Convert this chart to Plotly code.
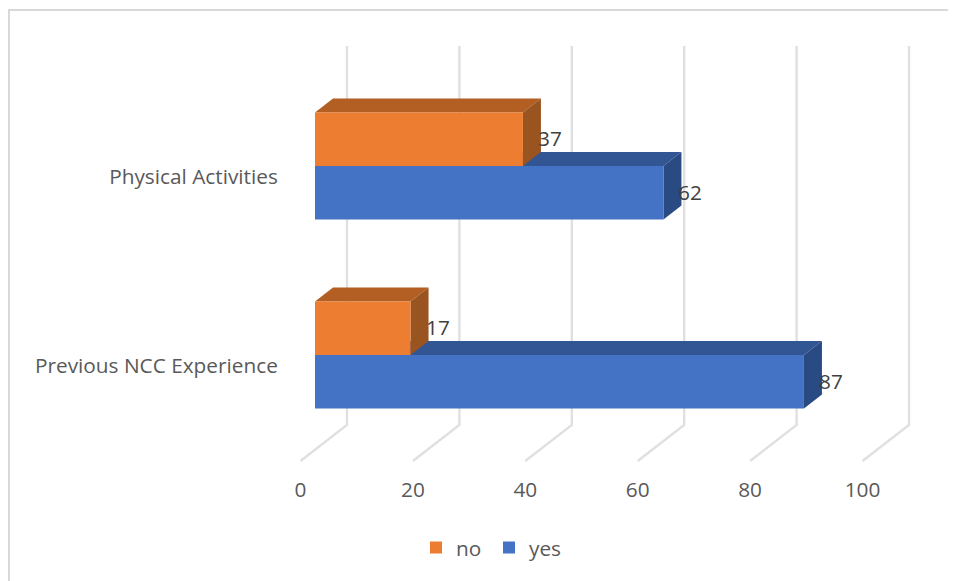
import plotly.graph_objects as go

categories = ["Previous NCC Experience", "Physical Activities"]
yes_values = [87, 62]
no_values = [17, 37]
tick_values = [0, 20, 40, 60, 80, 100]

FONT = "Open Sans"
FS = 20.8
PAGE = 8
FIG_W, FIG_H = 948, 573
PX_X, PX_Y = 5.62, 189.0
BAR_H = 53.5 / PX_Y
DX, DY = 18 / PX_X, 14 / PX_Y
TICK_SHIFT = -14.5 / PX_X
GRID_SHIFT = 32 / PX_X
L, R, T, B = 290, 930, 30, 472
x_range = [(L - 315) / PX_X, (R - 315) / PX_X]
y_range = [(355 - B) / PX_Y, (355 - T) / PX_Y]
pos = list(range(len(categories)))


def poly(pts, color):
    d = "M " + " L ".join(f"{x},{y}" for x, y in pts) + " Z"
    return dict(type="path", xref="x", yref="y", path=d, fillcolor=color,
                line=dict(width=0), layer="below")


shapes = [dict(type="rect", xref="paper", yref="paper",
               x0=(9 - L) / (R - L), x1=(975 - L) / (R - L),
               y0=(B - 640) / (B - T), y1=(B - 10) / (B - T),
               line=dict(color="#D9D9D9", width=2), layer="below")]

for t in tick_values:
    xb = t + GRID_SHIFT
    xf = t + TICK_SHIFT
    shapes.append(dict(type="path", xref="x", yref="y",
                       path=f"M {xb},{(355 - 46) / PX_Y} L {xb},{(355 - 425) / PX_Y} L {xf},{(355 - 461) / PX_Y}",
                       line=dict(color="#E0E0E0", width=2.4), layer="below"))


def faces(vals, y0s, top_c, side_c):
    out = []
    for v, y0 in zip(vals, y0s):
        y1 = y0 + BAR_H
        out.append(poly([(0, y1), (DX, y1 + DY), (v + DX, y1 + DY), (v, y1)], top_c))
        out.append(poly([(v, y0), (v + DX, y0 + DY), (v + DX, y1 + DY), (v, y1)], side_c))
    return out


shapes += faces(yes_values, [p - BAR_H for p in pos], "#325594", "#2A4A83")
shapes += faces(no_values, pos, "#B35F23", "#9A5420")

fig = go.Figure()
fig.add_bar(name="no", y=pos, x=no_values, orientation="h", width=BAR_H, offset=0,
            marker=dict(color="#ED7D31", line=dict(width=0)), hoverinfo="skip")
fig.add_bar(name="yes", y=pos, x=yes_values, orientation="h", width=BAR_H, offset=-BAR_H,
            marker=dict(color="#4472C4", line=dict(width=0)), hoverinfo="skip")

annotations = []
for vals, sign in ((no_values, 0.5), (yes_values, -0.5)):
    for v, p in zip(vals, pos):
        annotations.append(dict(x=v, y=p + sign * BAR_H, text=str(v), showarrow=False,
                                xanchor="left", xshift=13, yshift=1,
                                font=dict(family=FONT, size=FS, color="#404040")))

fig.update_layout(
    width=FIG_W, height=FIG_H,
    margin=dict(l=L - PAGE, r=FIG_W + PAGE - R, t=T - PAGE, b=FIG_H + PAGE - B, autoexpand=False),
    paper_bgcolor="white", plot_bgcolor="rgba(0,0,0,0)",
    barmode="overlay",
    font=dict(family=FONT, size=FS, color="#595959"),
    shapes=shapes, annotations=annotations,
    xaxis=dict(range=x_range, showgrid=False, zeroline=False, showline=False,
               tickmode="array", tickvals=[t + TICK_SHIFT for t in tick_values],
               ticktext=[str(t) for t in tick_values],
               ticks="", ticklabelstandoff=3),
    yaxis=dict(range=y_range, showgrid=False, zeroline=False, showline=False,
               tickmode="array", tickvals=[p - 10.5 / PX_Y for p in pos],
               ticktext=categories,
               ticks="outside", ticklen=7, tickcolor="rgba(0,0,0,0)"),
    legend=dict(orientation="h", x=(416 - L) / (R - L), xanchor="left",
                entrywidth=28, entrywidthmode="pixels",
                y=-(548 - B) / (B - T), yanchor="middle",
                bgcolor="rgba(0,0,0,0)", font=dict(family=FONT, size=FS, color="#595959")),
)
fig.write_html("out.html")
